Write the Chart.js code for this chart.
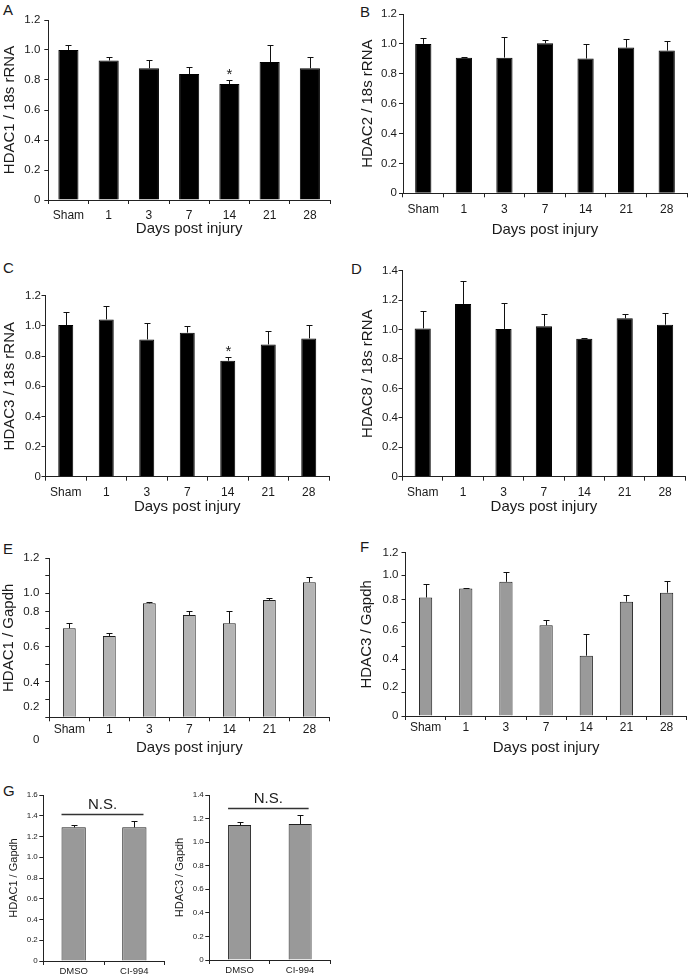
<!DOCTYPE html>
<html>
<head>
<meta charset="utf-8">
<script src="https://cdn.jsdelivr.net/npm/chart.js@4.4.1/dist/chart.umd.min.js"></script>
<style>
  body { margin: 0; background: #fff; }
  #fig { position: relative; width: 689px; height: 976px; overflow: hidden;
         font-family: "Liberation Sans", Arial, sans-serif; color: #1a1a1a; }
  #fig canvas { position: absolute; }
  .tag { position: absolute; font-size: 15px; line-height: 1; }
</style>
</head>
<body>
<div id="fig">
  <div class="tag" style="left:3px;top:2px">A</div>
  <div class="tag" style="left:360px;top:4px">B</div>
  <div class="tag" style="left:3px;top:260px">C</div>
  <div class="tag" style="left:351px;top:261px">D</div>
  <div class="tag" style="left:3px;top:541px">E</div>
  <div class="tag" style="left:360px;top:539px">F</div>
  <div class="tag" style="left:3px;top:783px">G</div>
</div>
<script>
const days = ['Sham', '1', '3', '7', '14', '21', '28'];
const treatments = ['DMSO', 'CI-994'];

// A - HDAC1 / 18s rRNA
const hdac1Rna = [1.00, 0.93, 0.878, 0.84, 0.773, 0.92, 0.878];
const hdac1RnaSem = [0.03, 0.025, 0.055, 0.049, 0.027, 0.11, 0.078];
const hdac1RnaSig = ['', '', '', '', '*', '', ''];
// B - HDAC2 / 18s rRNA
const hdac2Rna = [1.00, 0.908, 0.908, 1.004, 0.902, 0.975, 0.955];
const hdac2RnaSem = [0.038, 0.007, 0.137, 0.023, 0.10, 0.056, 0.063];
// C - HDAC3 / 18s rRNA
const hdac3Rna = [1.005, 1.043, 0.91, 0.955, 0.769, 0.877, 0.917];
const hdac3RnaSem = [0.089, 0.088, 0.111, 0.044, 0.022, 0.089, 0.086];
const hdac3RnaSig = ['', '', '', '', '*', '', ''];
// D - HDAC8 / 18s rRNA
const hdac8Rna = [1.008, 1.174, 1.004, 1.022, 0.938, 1.076, 1.033];
const hdac8RnaSem = [0.118, 0.158, 0.174, 0.081, 0.007, 0.027, 0.077];
// E - HDAC1 / Gapdh
const hdac1Gapdh = [0.672, 0.614, 0.86, 0.772, 0.709, 0.886, 1.019];
const hdac1GapdhSem = [0.037, 0.02, 0.013, 0.033, 0.091, 0.012, 0.038];
// F - HDAC3 / Gapdh
const hdac3Gapdh = [0.871, 0.937, 0.986, 0.667, 0.443, 0.84, 0.906];
const hdac3GapdhSem = [0.098, 0.005, 0.073, 0.037, 0.161, 0.049, 0.085];
// G - DMSO vs CI-994
const hdac1Drug = [1.288, 1.288];
const hdac1DrugSem = [0.023, 0.061];
const hdac3Drug = [1.145, 1.154];
const hdac3DrugSem = [0.023, 0.076];
const nsLevelHdac1 = 1.414;
const nsLevelHdac3 = 1.292;

// y axis ticks
const ticks12 = [0, 0.2, 0.4, 0.6, 0.8, 1.0, 1.2];
const ticks14 = [0, 0.2, 0.4, 0.6, 0.8, 1.0, 1.2, 1.4];
const ticks16 = [0, 0.2, 0.4, 0.6, 0.8, 1.0, 1.2, 1.4, 1.6];
// E and F have tick marks and printed labels that don't line up
const tickMarksE = [0, 0.133, 0.267, 0.4, 0.533, 0.667, 0.8, 0.933, 1.067, 1.2];
const tickTextE = ['0', '0.2', '0.4', '0.6', '0.8', '1.0', '1.2'];
const tickAtE = [-0.17, 0.082, 0.263, 0.533, 0.798, 0.938, 1.2];
const tickMarksF = [0, 0.171, 0.343, 0.514, 0.686, 0.857, 1.029, 1.2];
const tickTextF = ['0', '0.2', '0.4', '0.6', '0.8', '1.0', '1.2'];
const tickAtF = [0, 0.215, 0.423, 0.632, 0.857, 1.036, 1.2];

const fmt = v => v === 0 ? '0' : v.toFixed(1);
const FONT = '"Liberation Sans", Arial, sans-serif';
const INK = '#1a1a1a';
Chart.defaults.font.family = FONT;
Chart.defaults.color = INK;

const extras = {
  id: 'extras',
  afterDatasetsDraw(chart, args, o) {
    const ctx = chart.ctx, y = chart.scales.y;
    const bars = chart.getDatasetMeta(0).data;
    const vals = chart.data.datasets[0].data;
    ctx.save();
    ctx.strokeStyle = '#111';
    ctx.lineWidth = 1;
    bars.forEach((bar, i) => {
      const x = Math.round(bar.x) + 0.5;
      const top = Math.round(y.getPixelForValue(vals[i] + o.sem[i])) + 0.5;
      ctx.beginPath();
      ctx.moveTo(x, bar.y);
      ctx.lineTo(x, top);
      ctx.moveTo(x - 3, top);
      ctx.lineTo(x + 3, top);
      ctx.stroke();
      if (o.sig && o.sig[i]) {
        ctx.fillStyle = INK;
        ctx.font = '15px ' + FONT;
        ctx.textAlign = 'center';
        ctx.textBaseline = 'alphabetic';
        ctx.fillText(o.sig[i], x, top - 2);
      }
    });
    if (o.ns !== undefined) {
      const first = bars[0], last = bars[bars.length - 1];
      const ly = Math.round(y.getPixelForValue(o.ns)) + 0.5;
      const x1 = first.x - first.width / 2, x2 = last.x + last.width / 2 - 3;
      ctx.strokeStyle = '#333';
      ctx.lineWidth = 1.3;
      ctx.beginPath();
      ctx.moveTo(x1, ly);
      ctx.lineTo(x2, ly);
      ctx.stroke();
      ctx.fillStyle = INK;
      ctx.font = '15px ' + FONT;
      ctx.textAlign = 'center';
      ctx.textBaseline = 'bottom';
      ctx.fillText('N.S.', (x1 + x2) / 2, ly - 2);
    }
    // y tick labels
    ctx.fillStyle = INK;
    ctx.font = o.yFont + 'px ' + FONT;
    ctx.textAlign = 'right';
    ctx.textBaseline = 'middle';
    const lx = chart.chartArea.left - 4 - o.yGap;
    o.yText.forEach((t, i) => ctx.fillText(t, lx, y.getPixelForValue(o.yAt[i])));
    ctx.restore();
  }
};

const fig = document.getElementById('fig');

function panel(o) {
  const tSize = o.titleSize || 15, tLH = tSize * 1.2;
  const cx = Math.floor(o.yTitleX - tLH / 2 - 1);
  const cy = Math.round(o.top - 12);
  const padLeft = o.yTitleX - tLH / 2 - cx;
  const padTop = o.top - cy;
  const yW = o.left - cx - padLeft;
  const xH = o.xTitle ? o.xTitleY + tLH / 2 - o.bottom : 18;
  const W = Math.ceil(o.right - cx + 3);
  const padRight = W - (o.right - cx);
  const H = Math.ceil(o.bottom - cy + xH + 2);
  const padBottom = H - (o.bottom - cy) - xH;

  const cv = document.createElement('canvas');
  cv.width = W; cv.height = H;
  cv.style.left = cx + 'px'; cv.style.top = cy + 'px';
  cv.style.width = W + 'px'; cv.style.height = H + 'px';
  fig.appendChild(cv);

  new Chart(cv, {
    type: 'bar',
    data: {
      labels: o.labels,
      datasets: [{
        data: o.data,
        backgroundColor: o.fill,
        borderColor: o.fill === '#000' ? '#000' : '#1f1f1f',
        borderWidth: 1,
        barPercentage: o.bar,
        categoryPercentage: 1
      }]
    },
    options: {
      responsive: false,
      animation: false,
      events: [],
      layout: { padding: { left: padLeft, top: padTop, right: padRight, bottom: padBottom } },
      plugins: {
        legend: { display: false },
        tooltip: { enabled: false },
        extras: {
          sem: o.sem, sig: o.sig, ns: o.ns,
          yText: o.yText, yAt: o.yAt, yFont: o.yFont || 11.5, yGap: o.yGap
        }
      },
      scales: {
        x: {
          grid: { offset: true, drawOnChartArea: false, tickLength: 4, tickColor: '#222' },
          border: { display: true, color: '#222', width: 1 },
          ticks: { font: { size: o.xFont || 12 }, padding: o.xPad, maxRotation: 0, autoSkip: false },
          title: { display: !!o.xTitle, text: o.xTitle, font: { size: tSize }, padding: 0 },
          afterFit: s => { s.height = xH; }
        },
        y: {
          min: 0, max: o.max,
          afterBuildTicks: s => { s.ticks = o.marks.map(v => ({ value: v })); },
          grid: { drawOnChartArea: false, tickLength: 4, tickColor: '#222' },
          border: { display: true, color: '#222', width: 1 },
          ticks: { display: false },
          title: { display: true, text: o.yTitle, font: { size: tSize }, padding: 0 },
          afterFit: s => { s.width = yW; }
        }
      }
    },
    plugins: [extras]
  });
}

const daysTitle = 'Days post injury';

panel({ labels: days, data: hdac1Rna, sem: hdac1RnaSem, sig: hdac1RnaSig, fill: '#000',
  yTitle: 'HDAC1 / 18s rRNA', xTitle: daysTitle, max: 1.2, marks: ticks12,
  yText: ticks12.map(fmt), yAt: ticks12,
  left: 48.3, right: 330, top: 20, bottom: 200, yTitleX: 10, xTitleY: 229.3,
  xPad: 4, yGap: 4, bar: 0.5 });

panel({ labels: days, data: hdac2Rna, sem: hdac2RnaSem, fill: '#000',
  yTitle: 'HDAC2 / 18s rRNA', xTitle: daysTitle, max: 1.2, marks: ticks12,
  yText: ticks12.map(fmt), yAt: ticks12,
  left: 403, right: 687, top: 14, bottom: 193.3, yTitleX: 368, xTitleY: 230,
  xPad: 5, yGap: 2, bar: 0.4 });

panel({ labels: days, data: hdac3Rna, sem: hdac3RnaSem, sig: hdac3RnaSig, fill: '#000',
  yTitle: 'HDAC3 / 18s rRNA', xTitle: daysTitle, max: 1.2, marks: ticks12,
  yText: ticks12.map(fmt), yAt: ticks12,
  left: 45.5, right: 329, top: 295.7, bottom: 476.7, yTitleX: 10, xTitleY: 507,
  xPad: 5, yGap: 0.5, bar: 0.37 });

panel({ labels: days, data: hdac8Rna, sem: hdac8RnaSem, fill: '#000',
  yTitle: 'HDAC8 / 18s rRNA', xTitle: daysTitle, max: 1.4, marks: ticks14,
  yText: ticks14.map(fmt), yAt: ticks14,
  left: 402.5, right: 685.3, top: 270.7, bottom: 476.7, yTitleX: 367.7, xTitleY: 506.7,
  xPad: 5, yGap: 0.5, bar: 0.4 });

panel({ labels: days, data: hdac1Gapdh, sem: hdac1GapdhSem, fill: '#b4b4b4',
  yTitle: 'HDAC1 / Gapdh', xTitle: daysTitle, max: 1.2, marks: tickMarksE,
  yText: tickTextE, yAt: tickAtE,
  left: 49.3, right: 329.4, top: 558.3, bottom: 717.3, yTitleX: 9.3, xTitleY: 747.7,
  xPad: 1, yGap: 6, bar: 0.32 });

panel({ labels: days, data: hdac3Gapdh, sem: hdac3GapdhSem, fill: '#9a9a9a',
  yTitle: 'HDAC3 / Gapdh', xTitle: daysTitle, max: 1.2, marks: tickMarksF,
  yText: tickTextF, yAt: tickAtF,
  left: 405.5, right: 686.7, top: 552.7, bottom: 716, yTitleX: 366.7, xTitleY: 747.7,
  xPad: 0, yGap: 3, bar: 0.33 });

panel({ labels: treatments, data: hdac1Drug, sem: hdac1DrugSem, ns: nsLevelHdac1, fill: '#999999',
  yTitle: 'HDAC1 / Gapdh', max: 1.6, marks: ticks16,
  yText: ticks16.map(fmt), yAt: ticks16, yFont: 8, titleSize: 11,
  left: 43.3, right: 164.7, top: 795, bottom: 961, yTitleX: 14,
  xFont: 9.5, xPad: 1, yGap: 1.5, bar: 0.4 });

panel({ labels: treatments, data: hdac3Drug, sem: hdac3DrugSem, ns: nsLevelHdac3, fill: '#999999',
  yTitle: 'HDAC3 / Gapdh', max: 1.4, marks: ticks14,
  yText: ticks14.map(fmt), yAt: ticks14, yFont: 8, titleSize: 11,
  left: 209.3, right: 330.4, top: 795, bottom: 960, yTitleX: 180,
  xFont: 9.5, xPad: 1, yGap: 1.5, bar: 0.38 });
</script>
</body>
</html>
